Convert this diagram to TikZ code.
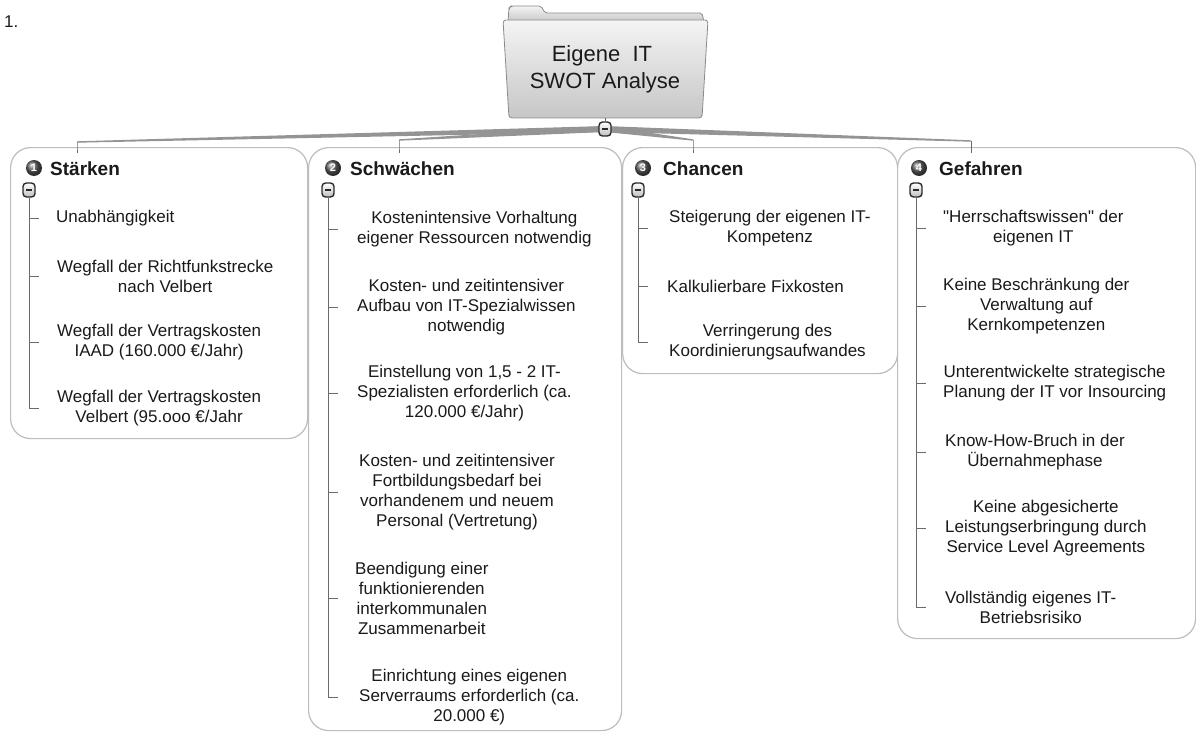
\documentclass[tikz,border=0pt]{standalone}
\usepackage{fontspec}
\setmainfont{Liberation Sans}
\newfontfamily\qfont{Liberation Sans}
\definecolor{txt}{HTML}{1A1A1A}
\definecolor{boxgray}{HTML}{BDBDBD}
\definecolor{linegray}{HTML}{6A6A6A}
\definecolor{bandgray}{HTML}{949494}
\definecolor{icongray}{HTML}{5A5A5A}
\definecolor{btngray}{HTML}{2A2A2A}
\definecolor{foldtop}{HTML}{F4F4F4}
\definecolor{foldbot}{HTML}{C6C6C6}
\definecolor{foldline}{HTML}{8A8A8A}
\begin{document}
\begin{tikzpicture}[x=1pt,y=-1pt,
  branchbox/.style={draw=boxgray, line width=1.2pt, rounded corners=20pt, fill=white, anchor=north west, inner sep=0pt},
  item/.style={anchor=west, align=center, inner sep=0pt, font=\fontsize{17}{20}\selectfont, text=txt},
  head/.style={anchor=base west, inner sep=0pt, font=\fontsize{19}{22}\selectfont\bfseries, text=txt},
  numicon/.style={circle, ball color=icongray, shading=ball, inner sep=0pt, minimum size=16pt, text=white, font=\fontsize{11}{11}\selectfont\bfseries},
  minusbtn/.style={draw=btngray, line width=1.4pt, rounded corners=3.5pt, minimum width=12pt, minimum height=14pt, inner sep=0pt, top color=white, bottom color=black!25,
    path picture={\draw[btngray, line width=1.6pt] ([xshift=-3pt]path picture bounding box.center) -- ([xshift=3pt]path picture bounding box.center);}},
  treeline/.style={draw=linegray, line width=1pt},
  band/.style={fill=bandgray},
  drop/.style={draw=linegray, line width=1pt},
]
\useasboundingbox (0,0) rectangle (1196,733);

% "1."
\node[anchor=west, inner sep=0pt, font=\fontsize{17}{20}\selectfont, text=txt] (num) at (4,22) {1.};

% ---------- branch boxes ----------
\node[branchbox, minimum width=297pt, minimum height=291pt] (bS) at (10,147) {};
\node[branchbox, minimum width=313pt, minimum height=583pt] (bW) at (308,147) {};
\node[branchbox, minimum width=275pt, minimum height=226pt] (bC) at (622,147) {};
\node[branchbox, minimum width=298pt, minimum height=491pt] (bG) at (897,147) {};

% ---------- root folder ----------
\path[draw=foldline, line width=0.8pt, top color=foldtop, bottom color=foldbot, rounded corners=2pt]
  (508,22) -- (509,8) -- (511,6) -- (541,6) -- (545,13) -- (702,13) -- (704,22) -- cycle;
\path[draw=foldline, line width=0.8pt, top color=foldtop, bottom color=foldbot, rounded corners=3pt]
  (503,20) -- (708,20) -- (702,118) -- (509,118) -- cycle;
\node[align=center, inner sep=0pt, font=\fontsize{22}{27}\selectfont, text=txt] (root) at (605,69) {Eigene~~IT~~\\SWOT Analyse};
\coordinate (rootb) at (605,118);
\coordinate (rmc) at (605,129);

% ---------- root connectors ----------
\coordinate (eS) at (77,142);
\coordinate (eW) at (399,140);
\coordinate (eC) at (693,140);
\coordinate (eG) at (971,141);
\foreach \e in {eS,eW,eC,eG}{
  \fill[band] ([yshift=3pt]rmc) -- ([yshift=0.7pt]\e) -- ([yshift=-0.7pt]\e) -- ([yshift=-3pt]rmc) -- cycle;
}
\draw[drop] (eS) -- (eS |- bS.north) -- ++(0,6);
\draw[drop] (eW) -- (eW |- bW.north) -- ++(0,6);
\draw[drop] (eC) -- (eC |- bC.north) -- ++(0,6);
\draw[drop] (eG) -- (eG |- bG.north) -- ++(0,6);
\node[minusbtn] (rm) at (rmc) {};
\draw[drop] (rootb) -- (rm.north);

% ---------- headers ----------
\node[numicon] (iS) at (34,168) {1};
\node[head] (hS) at (50,175) {Stärken};
\node[numicon] (iW) at (333,168) {2};
\node[head] (hW) at (350,175) {Schwächen};
\node[numicon] (iC) at (643,168) {3};
\node[head] (hC) at (663,175) {Chancen};
\node[numicon] (iG) at (919,168) {4};
\node[head] (hG) at (939,175) {Gefahren};

% ---------- Stärken ----------
\node[minusbtn] (mS) at (29,190) {};
\node[item] (s1) at (56,218) {Unabhängigkeit};
\node[item] (s2) at (57,276) {Wegfall der Richtfunkstrecke\\nach Velbert};
\node[item] (s3) at (57,342) {Wegfall der Vertragskosten\\IAAD (160.000 €/Jahr)};
\node[item] (s4) at (57,408) {Wegfall der Vertragskosten\\Velbert (95.ooo €/Jahr};
\draw[treeline] (mS.south) -- (mS.south |- s4.west) -- ++(10,0);
\foreach \n in {s1,s2,s3}{ \draw[treeline] (mS.south |- \n.west) -- ++(10,0); }

% ---------- Schwächen ----------
\node[minusbtn] (mW) at (328,190) {};
\node[item] (w1) at (357,229) {Kostenintensive Vorhaltung\\eigener Ressourcen notwendig};
\node[item] (w2) at (357,307) {Kosten- und zeitintensiver\\Aufbau von IT-Spezialwissen\\notwendig};
\node[item] (w3) at (357,393) {Einstellung von 1,5 - 2 IT-\\Spezialisten erforderlich (ca.\\120.000 €/Jahr)};
\node[item] (w4) at (359,492) {Kosten- und zeitintensiver\\Fortbildungsbedarf bei\\vorhandenem und neuem\\Personal (Vertretung)};
\node[item] (w5) at (355,598) {Beendigung einer\\funktionierenden\\interkommunalen\\Zusammenarbeit};
\node[item] (w6) at (359,697) {Einrichtung eines eigenen\\Serverraums erforderlich (ca.\\20.000 €)};
\draw[treeline] (mW.south) -- (mW.south |- w6.west) -- ++(10,0);
\foreach \n in {w1,w2,w3,w4,w5}{ \draw[treeline] (mW.south |- \n.west) -- ++(10,0); }

% ---------- Chancen ----------
\node[minusbtn] (mC) at (638,190) {};
\node[item] (c1) at (669,228.5) {Steigerung der eigenen IT-\\Kompetenz};
\node[item] (c2) at (667,286) {Kalkulierbare Fixkosten};
\node[item] (c3) at (669,342) {Verringerung des\\Koordinierungsaufwandes};
\draw[treeline] (mC.south) -- (mC.south |- c3.west) -- ++(10,0);
\foreach \n in {c1,c2}{ \draw[treeline] (mC.south |- \n.west) -- ++(10,0); }

% ---------- Gefahren ----------
\node[minusbtn] (mG) at (916,190) {};
\node[item] (g1) at (943,228.5) {{\qfont"}Herrschaftswissen{\qfont"} der\\eigenen IT};
\node[item] (g2) at (943,306) {Keine Beschränkung der\\Verwaltung auf\\Kernkompetenzen};
\node[item] (g3) at (943,383) {Unterentwickelte strategische\\Planung der IT vor Insourcing};
\node[item] (g4) at (945,452) {Know-How-Bruch in der\\Übernahmephase};
\node[item] (g5) at (945,528) {Keine abgesicherte\\Leistungserbringung durch\\Service Level Agreements};
\node[item] (g6) at (945,607) {Vollständig eigenes IT-\\Betriebsrisiko};
\draw[treeline] (mG.south) -- (mG.south |- g6.west) -- ++(10,0);
\foreach \n in {g1,g2,g3,g4,g5}{ \draw[treeline] (mG.south |- \n.west) -- ++(10,0); }
\end{tikzpicture}
\end{document}
